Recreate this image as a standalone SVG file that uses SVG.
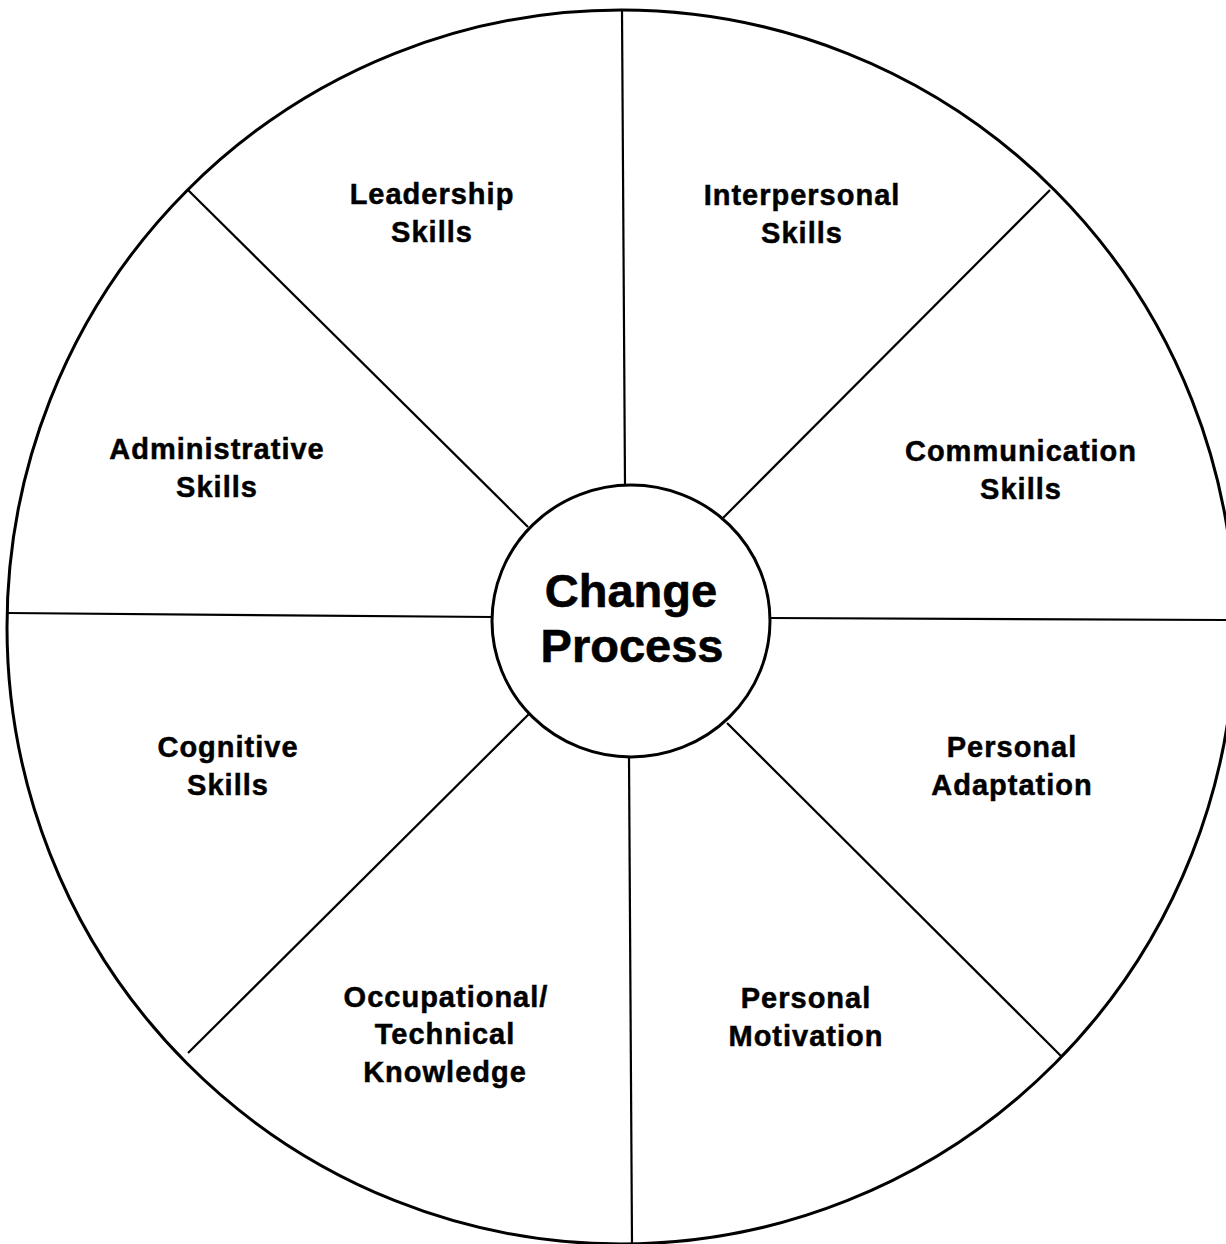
<svg xmlns="http://www.w3.org/2000/svg" width="1226" height="1244" viewBox="0 0 1226 1244">
<style>
.lbl{font-family:"Liberation Sans",Arial,sans-serif;font-weight:bold;font-size:29px;letter-spacing:1px;fill:#000;stroke:#000;stroke-width:0.5;text-anchor:middle}
.ctr{font-family:"Liberation Sans",Arial,sans-serif;font-weight:bold;font-size:47px;fill:#000;stroke:#000;stroke-width:0.6;text-anchor:middle}
.spoke{stroke:#000;stroke-width:2.2;fill:none}
</style>
<rect width="1226" height="1244" fill="#fff"/>
<g id="outer-circle"><ellipse cx="621" cy="627" rx="614" ry="617" fill="none" stroke="#000" stroke-width="3"/></g>
<g id="connectors">
<line class="spoke" x1="622" y1="11" x2="625" y2="485"/>
<line class="spoke" x1="629" y1="757" x2="632" y2="1244"/>
<line class="spoke" x1="8" y1="613" x2="492" y2="617"/>
<line class="spoke" x1="770" y1="618" x2="1226" y2="620"/>
<line class="spoke" x1="188" y1="190" x2="528" y2="527"/>
<line class="spoke" x1="1050" y1="190" x2="723" y2="518"/>
<line class="spoke" x1="188" y1="1053" x2="530" y2="713"/>
<line class="spoke" x1="1062" y1="1057" x2="727" y2="723"/>
</g>
<g id="center"><ellipse cx="631" cy="621" rx="139" ry="136" fill="#fff" stroke="#000" stroke-width="3"/>
<text class="ctr" x="631" y="607">Change</text><text class="ctr" x="632" y="662">Process</text></g>
<g id="leadership"><text class="lbl" x="432" y="204">Leadership</text><text class="lbl" x="432" y="242">Skills</text></g>
<g id="interpersonal"><text class="lbl" x="802" y="205">Interpersonal</text><text class="lbl" x="802" y="243">Skills</text></g>
<g id="administrative"><text class="lbl" x="217" y="459">Administrative</text><text class="lbl" x="217" y="497">Skills</text></g>
<g id="communication"><text class="lbl" x="1021" y="461">Communication</text><text class="lbl" x="1021" y="499">Skills</text></g>
<g id="cognitive"><text class="lbl" x="228" y="757">Cognitive</text><text class="lbl" x="228" y="795">Skills</text></g>
<g id="adaptation"><text class="lbl" x="1012" y="757">Personal</text><text class="lbl" x="1012" y="795">Adaptation</text></g>
<g id="occupational"><text class="lbl" x="446" y="1007">Occupational/</text><text class="lbl" x="445" y="1044">Technical</text><text class="lbl" x="445" y="1082">Knowledge</text></g>
<g id="motivation"><text class="lbl" x="806" y="1008">Personal</text><text class="lbl" x="806" y="1046">Motivation</text></g>
</svg>
